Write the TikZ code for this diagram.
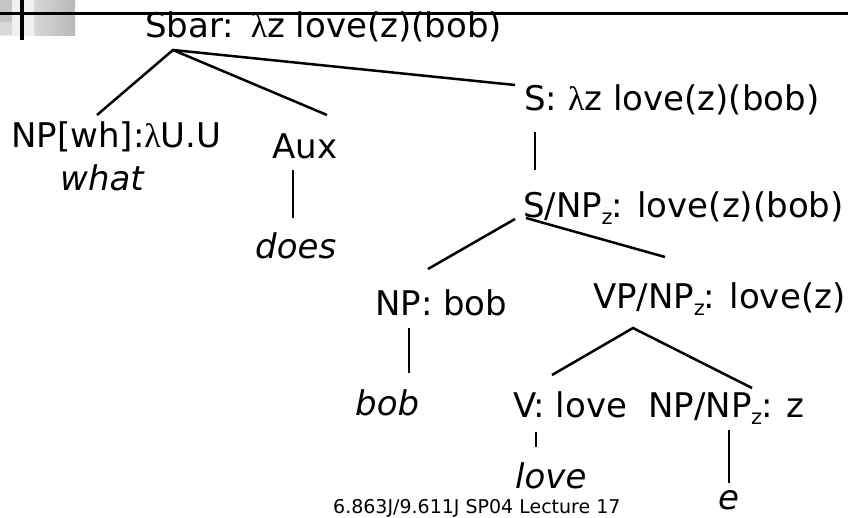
\documentclass[tikz,border=0pt]{standalone}
\usepackage{fontspec}
\setmainfont{DejaVu Sans}
\newfontfamily\lamfont{Liberation Serif}
\newcommand{\lam}{{\lamfont λ}}
\newcommand{\subz}{\kern-0.5pt\raisebox{-0.22em}{\fontsize{21}{21}\selectfont z}\kern-1pt}
\usetikzlibrary{calc}

\tikzset{
  cat/.style={anchor=base west, inner sep=0pt, font=\fontsize{34}{40}\selectfont},
  word/.style={anchor=base west, inner sep=0pt, font=\fontsize{34}{40}\selectfont\itshape},
  foot/.style={anchor=base west, inner sep=0pt, font=\fontsize{19}{22}\selectfont},
  branch/.style={line width=2.5pt, line cap=butt},
  rule/.style={line width=3.5pt}
}

\begin{document}
\begin{tikzpicture}[x=1pt, y=-1pt]
\useasboundingbox (0,0) rectangle (848,517);

% header ornament
\shade[left color=gray!12, right color=gray!55] (0,0) rectangle (75,35);
\fill[gray!30] (0,0) rectangle (34,35);
\shade[left color=gray!12, right color=gray!12] (12,0) rectangle (34,35);
\fill[gray!45] (0,0) rectangle (12,22);
\draw[rule] (0,13.5) -- (848,13.5);
\draw[line width=4pt] (22,0) -- (22,40);

% tree labels
\node[cat] (sbar) at (145,37) {Sbar:\ \kern6pt\lam z love(z)(bob)};
\node[cat] (npwh) at (11,147) {NP[wh]:\lam U.U};
\node[word] (what) at (60,190) {what};
\node[cat] (aux) at (272,158) {Aux};
\node[word] (does) at (255,258) {does};
\node[cat] (s) at (524,110) {S: \lam z love(z)(bob)};
\node[cat] (snp) at (523,217) {S/NP\subz: love(z)(bob)};
\node[cat] (npbob) at (375,315) {NP: bob};
\node[word] (bob) at (355,415) {bob};
\node[cat] (vpnp) at (593,308) {VP/NP\subz: love(z)};
\node[cat] (v) at (513,417) {V: love};
\node[cat] (npnp) at (648,417) {NP/NP\subz: z};
\node[word] (love) at (515,488) {love};
\node[word] (e) at (718,509) {e};
\node[foot] (footer) at (333,513) {6.863J/9.611J SP04 Lecture 17};

% branch end points
\coordinate (sbar-b) at (173,50);
\coordinate (npwh-t) at (97,115);
\coordinate (aux-t) at (327,115);
\coordinate (s-t) at (515,85);
\coordinate (aux-b) at (293,170);
\coordinate (does-t) at (293,218);
\coordinate (s-b) at (535,132);
\coordinate (snp-t) at (535,170);
\coordinate (snp-bl) at (515,219);
\coordinate (snp-br) at (526,218);
\coordinate (npbob-t) at (428,269);
\coordinate (vpnp-t) at (665,257);
\coordinate (npbob-b) at (409,328);
\coordinate (bob-t) at (409,373);
\coordinate (vpnp-b) at (633,328);
\coordinate (v-t) at (552,375);
\coordinate (npnp-t) at (752,388);
\coordinate (v-b) at (536,432);
\coordinate (love-t) at (536,447);
\coordinate (npnp-b) at (729,430);
\coordinate (e-t) at (729,483);

% branches
\draw[branch] (npwh-t) -- (sbar-b) -- (aux-t);
\draw[branch] (sbar-b) -- (s-t);
\draw[branch] (aux-b) -- (does-t);
\draw[branch] (s-b) -- (snp-t);
\draw[branch] (snp-bl) -- (npbob-t);
\draw[branch] (snp-br) -- (vpnp-t);
\draw[branch] (npbob-b) -- (bob-t);
\draw[branch] (v-t) -- (vpnp-b) -- (npnp-t);
\draw[branch] (v-b) -- (love-t);
\draw[branch] (npnp-b) -- (e-t);
\end{tikzpicture}
\end{document}
